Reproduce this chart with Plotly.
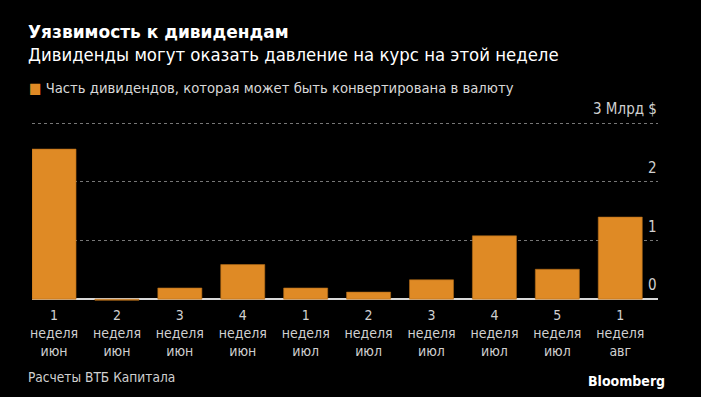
import plotly.graph_objects as go

# ---- data ----
weeks = ["1", "2", "3", "4", "1", "2", "3", "4", "5", "1"]
months = ["июн", "июн", "июн", "июн", "июл", "июл", "июл", "июл", "июл", "авг"]
values = [2.56, -0.02, 0.19, 0.59, 0.19, 0.12, 0.33, 1.08, 0.51, 1.40]
ytick_vals = [0, 1, 2, 3]
ytick_text = ["0", "1", "2", "3 Млрд $"]

title = "Уязвимость к дивидендам"
subtitle = "Дивиденды могут оказать давление на курс на этой неделе"
series_name = "Часть дивидендов, которая может быть конвертирована в валюту"
source = "Расчеты ВТБ Капитала"

categories = [f"{w}<br>неделя<br>{m}" for w, m in zip(weeks, months)]

ORANGE = "#df8a25"
FONT = "DejaVu Sans Condensed, Liberation Sans Narrow, sans-serif"

W, H = 701, 397
L, R, T, B = 32, 43, 94, 92

fig = go.Figure()
fig.add_trace(go.Bar(
    x=categories, y=values, name=series_name,
    marker=dict(color=ORANGE, line=dict(color="#b06a18", width=0.6)),
    showlegend=False,
))

fig.update_layout(
    width=W, height=H,
    paper_bgcolor="black", plot_bgcolor="black",
    margin=dict(l=L, r=R, t=T, b=B),
    bargap=0.3,
    font=dict(family=FONT, color="#cccccc", size=14),
    xaxis=dict(
        type="category", range=[-0.35, 9.6],
        showgrid=False, zeroline=False, showline=False,
        ticks="", tickfont=dict(size=14, color="#d0d0d0"),
        fixedrange=True,
    ),
    yaxis=dict(
        range=[-0.1, 3.5], side="right",
        tickvals=ytick_vals, showticklabels=False,
        showgrid=True, gridcolor="#777777", griddash="dot", gridwidth=1,
        zeroline=True, zerolinecolor="#d8d8d8", zerolinewidth=1.5,
        showline=False, ticks="", fixedrange=True,
    ),
)

# y-axis labels placed just above their gridlines, inside the plot at the right
for v, t in zip(ytick_vals, ytick_text):
    fig.add_annotation(
        text=t, xref="paper", yref="y", x=1.002, y=v,
        xanchor="right", yanchor="middle", yshift=14, showarrow=False,
        font=dict(family=FONT, size=15, color="#d0d0d0"),
    )


def px(x):
    return (x - L) / (W - L - R)


def py(y):
    return 1 - (y - T) / (H - T - B)


annotations = [
    dict(text=f"<b>{title}</b>", x=26, y=32, font=dict(family="DejaVu Sans", size=17, color="white")),
    dict(text=subtitle, x=26, y=55, font=dict(family=FONT, size=18.4, color="white")),
    dict(text=f"<span style='color:{ORANGE}'>■</span> {series_name}", x=27, y=87,
         font=dict(family=FONT, size=14.7, color="#d8d8d8")),
    dict(text=source, x=26, y=377, font=dict(family=FONT, size=13.6, color="#d0d0d0")),
]
for a in annotations:
    fig.add_annotation(
        text=a["text"], xref="paper", yref="paper",
        x=px(a["x"]), y=py(a["y"]),
        xanchor="left", yanchor="middle", showarrow=False, font=a["font"],
    )

fig.add_annotation(
    text="<b>Bloomberg</b>", xref="paper", yref="paper",
    x=px(667), y=py(381),
    xanchor="right", yanchor="middle", showarrow=False,
    font=dict(family="Liberation Sans Narrow, DejaVu Sans Condensed, sans-serif", size=14, color="white"),
)

fig.write_html(
    "out.html",
    config={"displayModeBar": False},
    post_script="document.body.style.margin='0';document.body.style.overflow='hidden';",
)
